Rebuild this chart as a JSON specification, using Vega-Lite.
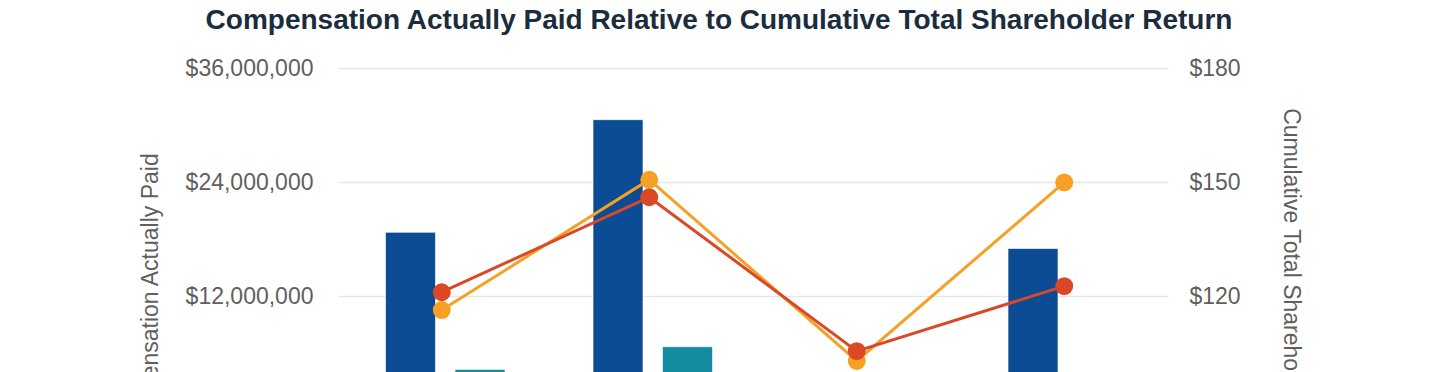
{
  "$schema": "https://vega.github.io/schema/vega-lite/v6.json",
  "autosize": {"type": "none"},
  "width": 830,
  "height": 304,
  "padding": {"left": 338, "top": 68, "right": 272, "bottom": 0},
  "background": "#ffffff",
  "config": {"view": {"stroke": null}, "font": "Liberation Sans"},
  "title": {
    "text": "Compensation Actually Paid Relative to Cumulative Total Shareholder Return",
    "font": "Liberation Sans",
    "fontSize": 28,
    "fontWeight": "bold",
    "color": "#1b2d3d",
    "anchor": "middle",
    "frame": "group",
    "baseline": "alphabetic",
    "offset": 0,
    "dx": -34,
    "dy": 0
  },
  "datasets": {
    "cap": [
      {"year": "2020", "series": "PEO CAP", "value": 18700000},
      {"year": "2020", "series": "Average Non-PEO NEO CAP", "value": 4270000},
      {"year": "2021", "series": "PEO CAP", "value": 30560000},
      {"year": "2021", "series": "Average Non-PEO NEO CAP", "value": 6660000},
      {"year": "2022", "series": "PEO CAP", "value": 2100000},
      {"year": "2022", "series": "Average Non-PEO NEO CAP", "value": 1500000},
      {"year": "2023", "series": "PEO CAP", "value": 17000000},
      {"year": "2023", "series": "Average Non-PEO NEO CAP", "value": 3600000}
    ],
    "tsr": [
      {"year": "2020", "series": "Company TSR", "value": 116.3},
      {"year": "2021", "series": "Company TSR", "value": 150.6},
      {"year": "2022", "series": "Company TSR", "value": 102.9},
      {"year": "2023", "series": "Company TSR", "value": 149.9},
      {"year": "2020", "series": "Peer Group TSR", "value": 121.0},
      {"year": "2021", "series": "Peer Group TSR", "value": 146.0},
      {"year": "2022", "series": "Peer Group TSR", "value": 105.5},
      {"year": "2023", "series": "Peer Group TSR", "value": 122.6}
    ]
  },
  "layer": [
    {
      "data": {"name": "cap"},
      "mark": {"type": "bar", "clip": true, "stroke": "#ffffff", "strokeOpacity": 0.6, "strokeWidth": 1},
      "encoding": {
        "x": {"field": "year", "type": "nominal", "axis": null, "scale": {"paddingInner": 0, "paddingOuter": 0}},
        "xOffset": {"field": "series", "type": "nominal", "sort": ["PEO CAP", "Average Non-PEO NEO CAP"], "scale": {"paddingInner": 0.281, "paddingOuter": 0.633, "align": 0.54}},
        "y": {
          "field": "value", "type": "quantitative",
          "scale": {"domain": [4000000, 36000000], "zero": false, "nice": false},
          "axis": {
            "values": [12000000, 24000000, 36000000],
            "format": "$,.0f",
            "labelFont": "Liberation Sans",
            "labelFontSize": 23,
            "labelColor": "#5f5f5f",
            "labelPadding": 25,
            "ticks": false,
            "domain": false,
            "grid": true,
            "gridColor": "#e6e6e6",
            "gridWidth": 1.5,
            "title": "Compensation Actually Paid",
            "titleFont": "Liberation Sans",
            "titleFontSize": 23,
            "titleFontWeight": "normal",
            "titleColor": "#5f5f5f",
            "titleAngle": -90,
            "titleAlign": "center",
            "titleBaseline": "alphabetic",
            "titleX": -181,
            "titleY": 228
          }
        },
        "color": {
          "field": "series", "type": "nominal",
          "scale": {"domain": ["PEO CAP", "Average Non-PEO NEO CAP", "Company TSR", "Peer Group TSR"], "range": ["#0c4c94", "#148b9f", "#f6a026", "#da4825"]},
          "legend": null
        }
      }
    },
    {
      "data": {"name": "tsr"},
      "mark": {"type": "line", "strokeWidth": 3, "point": {"filled": true, "size": 320, "opacity": 1}},
      "encoding": {
        "x": {"field": "year", "type": "nominal", "axis": null},
        "y": {
          "field": "value", "type": "quantitative",
          "scale": {"domain": [100, 180], "zero": false, "nice": false},
          "axis": {
            "orient": "right",
            "values": [120, 150, 180],
            "format": "$,.0f",
            "labelFont": "Liberation Sans",
            "labelFontSize": 23,
            "labelColor": "#5f5f5f",
            "labelPadding": 21,
            "ticks": false,
            "domain": false,
            "grid": false,
            "title": "Cumulative Total Shareholder Return",
            "titleFont": "Liberation Sans",
            "titleFontSize": 23,
            "titleFontWeight": "normal",
            "titleColor": "#5f5f5f",
            "titleAngle": 90,
            "titleAlign": "center",
            "titleBaseline": "alphabetic",
            "titleX": 115,
            "titleY": 228
          }
        },
        "color": {"field": "series", "type": "nominal", "legend": null}
      }
    }
  ],
  "resolve": {"scale": {"y": "independent"}}
}
